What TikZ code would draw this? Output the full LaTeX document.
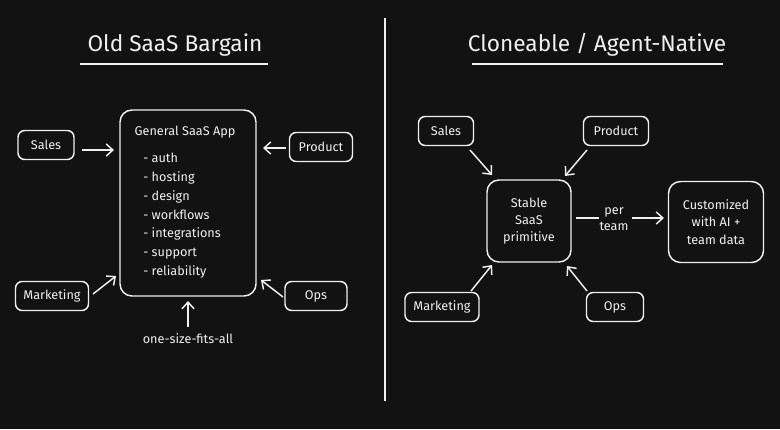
\documentclass[tikz,border=0pt]{standalone}
\usepackage{fontspec}
\setmainfont{Fira Sans}
\usetikzlibrary{arrows.meta}
\definecolor{bg}{HTML}{121212}
\definecolor{fg}{HTML}{F0F0F0}
\begin{document}
\begin{tikzpicture}[x=0.75pt,y=-0.75pt,
  box/.style={draw=fg,line width=1.1pt,rounded corners=5pt,text=fg,font=\fontsize{9.5}{11}\selectfont,inner sep=0pt,align=center},
  txt/.style={text=fg,font=\fontsize{9.5}{11}\selectfont,inner sep=0pt},
  ttl/.style={text=fg,font=\fontsize{17}{20}\selectfont,inner sep=0pt},
  arr/.style={draw=fg,line width=1.1pt,-{Straight Barb[length=5pt,width=9pt]}},
  ln/.style={draw=fg,line width=1.1pt}]
\fill[bg] (0,0) rectangle (780,429);
\useasboundingbox (0,0) rectangle (780,429);
% divider
\coordinate (d1) at (385,18); \coordinate (d2) at (385,401);
\draw[ln] (d1) -- (d2);
% left
\node[ttl] (t1) at (175,45) {Old SaaS Bargain};
\coordinate (u1a) at (80,64); \coordinate (u1b) at (268,64);
\draw[ln] (u1a) -- (u1b);
\node[box,minimum width=56*0.75pt,minimum height=29*0.75pt] (ls) at (46,145) {Sales};
\node[box,minimum width=63*0.75pt,minimum height=29*0.75pt] (lp) at (321,147) {Product};
\node[box,minimum width=73*0.75pt,minimum height=29*0.75pt] (lm) at (52,296) {Marketing};
\node[box,minimum width=62*0.75pt,minimum height=29*0.75pt] (lo) at (316,296) {Ops};
\node[box,minimum width=136*0.75pt,minimum height=186*0.75pt,rounded corners=9pt] (app) at (188,203) {};
\node[txt] (appt) at (185,132) {General SaaS App};
\node[txt,anchor=north west,align=left,font=\fontsize{9.5}{14.1}\selectfont] (items) at (143,153) {- auth\\- hosting\\- design\\- workflows\\- integrations\\- support\\- reliability};
\node[txt] (osfa) at (188,339) {one-size-fits-all};
\coordinate (a1) at (82,150); \coordinate (a1e) at (114,150);
\draw[arr] (a1) -- (a1e);
\coordinate (a2) at (286,148); \coordinate (a2e) at (263,148);
\draw[arr] (a2) -- (a2e);
\coordinate (a3) at (93,294); \coordinate (a3e) at (116,276);
\draw[arr] (a3) -- (a3e);
\coordinate (a4) at (283,297); \coordinate (a4e) at (261,280);
\draw[arr] (a4) -- (a4e);
\coordinate (a5) at (188,327); \coordinate (a5e) at (188,301);
\draw[arr] (a5) -- (a5e);
% right
\node[ttl] (t2) at (597,45) {Cloneable / Agent-Native};
\coordinate (u2a) at (472,64); \coordinate (u2b) at (723,64);
\draw[ln] (u2a) -- (u2b);
\node[box,minimum width=55*0.75pt,minimum height=29*0.75pt] (rs) at (446,131) {Sales};
\node[box,minimum width=65*0.75pt,minimum height=29*0.75pt] (rp) at (616,131) {Product};
\node[box,minimum width=74*0.75pt,minimum height=29*0.75pt] (rm) at (442,307) {Marketing};
\node[box,minimum width=57*0.75pt,minimum height=29*0.75pt] (ro) at (615,307) {Ops};
\node[box,minimum width=84*0.75pt,minimum height=82*0.75pt,rounded corners=9pt,font=\fontsize{9.5}{13}\selectfont] (st) at (529,221) {Stable\\SaaS\\primitive};
\node[box,minimum width=95*0.75pt,minimum height=81*0.75pt,rounded corners=9pt,font=\fontsize{9.5}{13}\selectfont] (cu) at (716,222) {Customized\\with AI +\\team data};
\node[txt,align=center,font=\fontsize{9.5}{12}\selectfont] (pt) at (614,219) {per\\team};
\coordinate (b1) at (470,150); \coordinate (b1e) at (492,175);
\draw[arr] (b1) -- (b1e);
\coordinate (b2) at (587,150); \coordinate (b2e) at (565,176);
\draw[arr] (b2) -- (b2e);
\coordinate (b3) at (471,291); \coordinate (b3e) at (492,265);
\draw[arr] (b3) -- (b3e);
\coordinate (b4) at (587,291); \coordinate (b4e) at (567,266);
\draw[arr] (b4) -- (b4e);
\coordinate (c1) at (576,218); \coordinate (c1e) at (599,218);
\draw[ln] (c1) -- (c1e);
\coordinate (c2) at (632,218); \coordinate (c2e) at (664,218);
\draw[arr] (c2) -- (c2e);
\end{tikzpicture}
\end{document}
